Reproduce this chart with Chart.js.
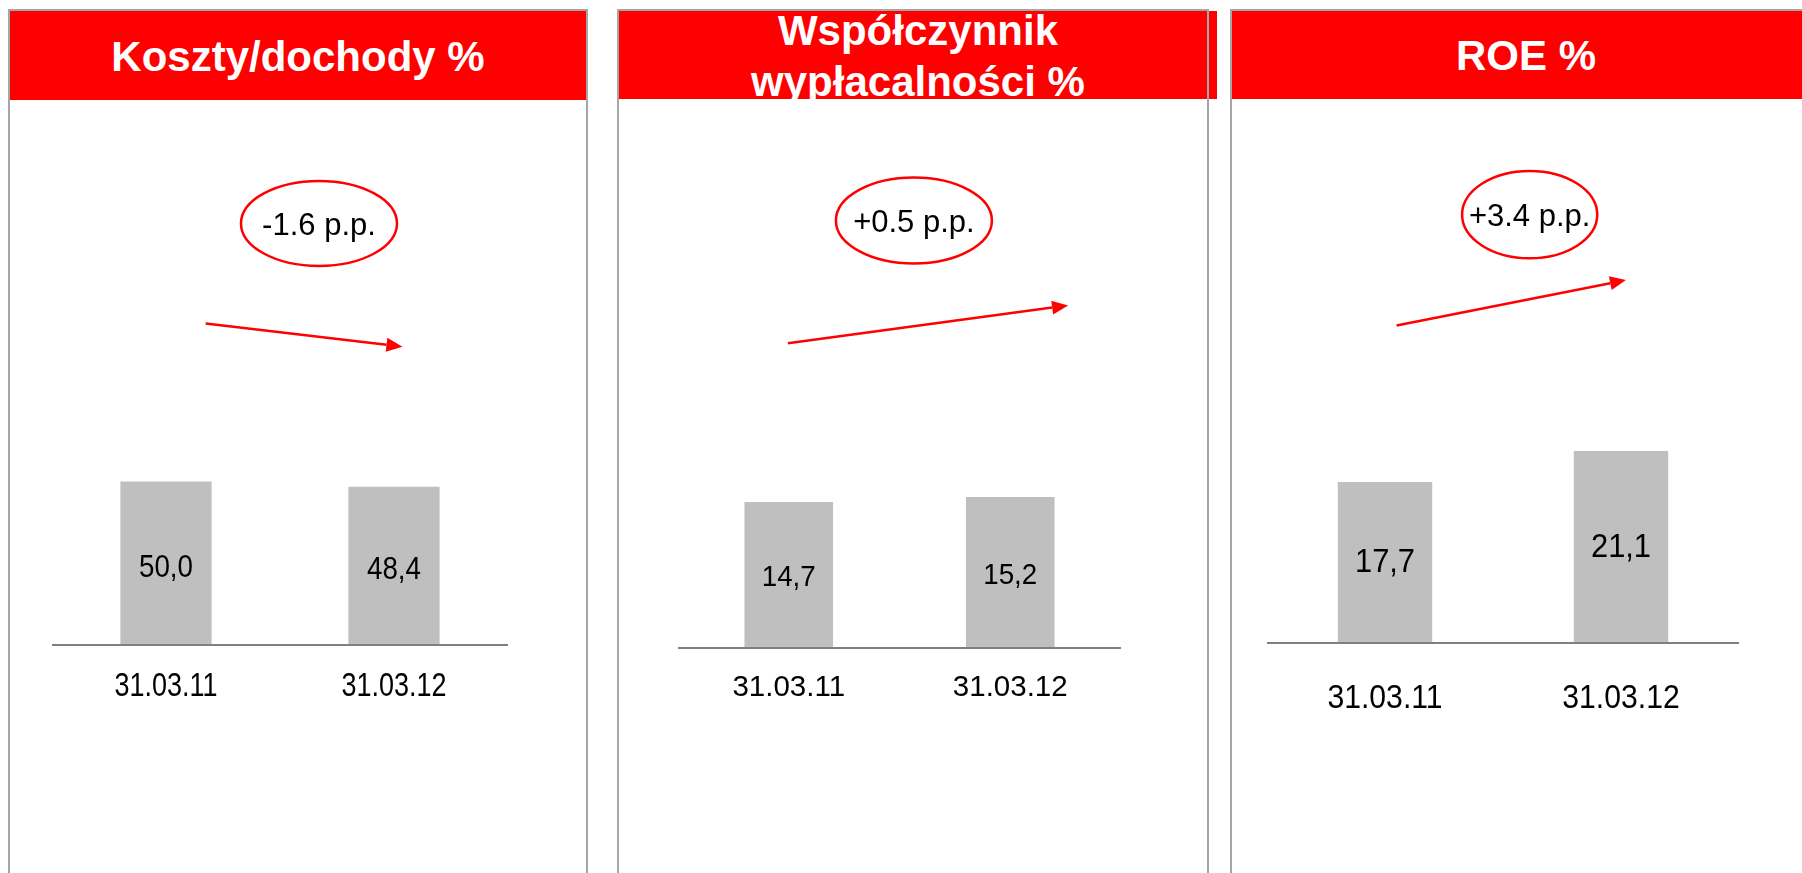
<!DOCTYPE html>
<html>
<head>
<meta charset="utf-8">
<title>Wskaźniki</title>
<script src="https://cdn.jsdelivr.net/npm/chart.js@4.4.0/dist/chart.umd.min.js"></script>
<style>
  html, body { margin: 0; padding: 0; background: #fff; }
  body { width: 1802px; height: 873px; overflow: hidden; position: relative;
         font-family: 'Liberation Sans', Arial, sans-serif; }
  .head { position: absolute; background: #ff0000; overflow: hidden; color: #fff;
          font-weight: bold; font-size: 42px; text-align: center; }
  .head span { position: absolute; left: 0; right: 0; white-space: nowrap; }
  .frame { position: absolute; top: 9px; height: 900px; box-sizing: border-box;
           border: 2px solid #a6a6a6; }
  canvas { position: absolute; top: 100px; }
</style>
</head>
<body>
<div class="head" style="left:10px;top:11px;width:576px;height:89px"><span style="top:25px;line-height:42px">Koszty/dochody %</span></div>
<div class="head" style="left:619px;top:11px;width:598px;height:88px"><span style="top:-5px;line-height:50.5px">Współczynnik<br>wypłacalności %</span></div>
<div class="head" style="left:1232px;top:11px;width:588px;height:88px"><span style="top:23.5px;line-height:42px">ROE %</span></div>
<div class="frame" style="left:8px;width:580px"></div>
<div class="frame" style="left:617px;width:592px"></div>
<div class="frame" style="left:1230px;width:592px"></div>

<canvas id="c1" width="456" height="773" style="left:52px"></canvas>
<canvas id="c2" width="443" height="773" style="left:678px"></canvas>
<canvas id="c3" width="472" height="773" style="left:1267px"></canvas>

<script>
// dane
const categories = ['31.03.11', '31.03.12'];
const costIncome = [50.0, 48.4];
const solvency = [14.7, 15.2];
const roe = [17.7, 21.1];
const changeLabels = ['-1.6 p.p.', '+0.5 p.p.', '+3.4 p.p.'];

const FONT = "'Liberation Sans', Arial, sans-serif";

// tekst lekko zwężony w poziomie (jak w oryginale)
function narrowText(ctx, text, x, y, size, sx) {
    ctx.save();
    ctx.translate(x, y);
    ctx.scale(sx, 1);
    ctx.font = size + 'px ' + FONT;
    ctx.textAlign = 'center';
    ctx.textBaseline = 'middle';
    ctx.fillText(text, 0, 0);
    ctx.restore();
}

// wartości w środku słupków + etykiety osi X
const barTexts = {
    id: 'barTexts',
    afterDatasetsDraw(chart, args, opts) {
        const ctx = chart.ctx;
        const xs = chart.scales.x;
        const meta = chart.getDatasetMeta(0);
        const values = chart.data.datasets[0].data;
        ctx.save();
        ctx.fillStyle = '#000';
        meta.data.forEach((bar, i) => {
            const label = values[i].toFixed(1).replace('.', ',');
            narrowText(ctx, label, bar.x, (bar.y + bar.base) / 2 + opts.valueOffset, opts.valueSize, opts.valueSx);
        });
        chart.data.labels.forEach((lab, i) => {
            narrowText(ctx, lab, xs.getPixelForValue(i), chart.chartArea.bottom + opts.tickGap, opts.tickSize, opts.tickSx);
        });
        ctx.restore();
    }
};

// strzałka i elipsa ze zmianą, pozycje w jednostkach osi
const changeNote = {
    id: 'changeNote',
    afterDraw(chart, args, opts) {
        const ctx = chart.ctx;
        const xs = chart.scales.x, ys = chart.scales.y;
        const px = v => xs.getPixelForValue(v);
        const py = v => ys.getPixelForValue(v);
        ctx.save();
        ctx.strokeStyle = '#ff0000';
        ctx.fillStyle = '#ff0000';
        ctx.lineWidth = 2.5;

        // elipsa
        const cx = px(opts.ellipse.x), cy = py(opts.ellipse.y);
        ctx.beginPath();
        ctx.ellipse(cx, cy, opts.ellipse.rx, opts.ellipse.ry, 0, 0, Math.PI * 2);
        ctx.stroke();
        ctx.fillStyle = '#000';
        ctx.font = opts.textSize + 'px ' + FONT;
        ctx.textAlign = 'center';
        ctx.textBaseline = 'middle';
        ctx.fillText(opts.text, cx, cy + 3);

        // strzałka
        const x1 = px(opts.from.x), y1 = py(opts.from.y);
        const x2 = px(opts.to.x), y2 = py(opts.to.y);
        const a = Math.atan2(y2 - y1, x2 - x1);
        const head = 16, half = 7;
        const bx = x2 - head * Math.cos(a), by = y2 - head * Math.sin(a);
        ctx.fillStyle = '#ff0000';
        ctx.beginPath();
        ctx.moveTo(x1, y1);
        ctx.lineTo(bx, by);
        ctx.stroke();
        ctx.beginPath();
        ctx.moveTo(x2, y2);
        ctx.lineTo(bx + half * Math.sin(a), by - half * Math.cos(a));
        ctx.lineTo(bx - half * Math.sin(a), by + half * Math.cos(a));
        ctx.closePath();
        ctx.fill();
        ctx.restore();
    }
};

const panels = [
    { id: 'c1', values: costIncome, text: changeLabels[0], yMax: 166.77, axisH: 228,
      texts: { tickSize: 32.5, tickSx: 0.83, tickGap: 42.5, valueSize: 30.5, valueSx: 0.91, valueOffset: 5 },
      ellipse: { x: 0.671, y: 129.0, rx: 78, ry: 42.5 },
      from: { x: 0.174, y: 98.4 }, to: { x: 1.037, y: 91.3 } },
    { id: 'c2', values: solvency, text: changeLabels[1], yMax: 55.19, axisH: 225,
      texts: { tickSize: 29.5, tickSx: 1, tickGap: 40, valueSize: 30, valueSx: 0.925, valueOffset: 3 },
      ellipse: { x: 0.565, y: 43.05, rx: 78, ry: 43 },
      from: { x: -0.004, y: 30.7 }, to: { x: 1.261, y: 34.5 } },
    { id: 'c3', values: roe, text: changeLabels[2], yMax: 59.70, axisH: 230,
      texts: { tickSize: 33, tickSx: 0.914, tickGap: 55.5, valueSize: 32.5, valueSx: 0.95, valueOffset: 1 },
      ellipse: { x: 0.613, y: 47.1, rx: 67.6, ry: 43.7 },
      from: { x: 0.049, y: 34.9 }, to: { x: 1.021, y: 39.9 } }
];

panels.forEach(p => {
    new Chart(document.getElementById(p.id), {
        type: 'bar',
        data: {
            labels: categories,
            datasets: [{
                data: p.values,
                backgroundColor: '#bfbfbf',
                barPercentage: 0.4,
                categoryPercentage: 1
            }]
        },
        options: {
            responsive: false,
            animation: false,
            layout: { padding: 0 },
            plugins: {
                legend: { display: false },
                tooltip: { enabled: false },
                barTexts: p.texts,
                changeNote: { text: p.text, textSize: 31, ellipse: p.ellipse, from: p.from, to: p.to }
            },
            scales: {
                x: {
                    grid: { display: false, drawTicks: false },
                    border: { display: true, color: '#808080', width: 2, z: 1 },
                    ticks: { display: false },
                    afterFit: scale => { scale.height = p.axisH; }
                },
                y: { display: false, min: 0, max: p.yMax }
            }
        },
        plugins: [barTexts, changeNote]
    });
});
</script>
</body>
</html>
